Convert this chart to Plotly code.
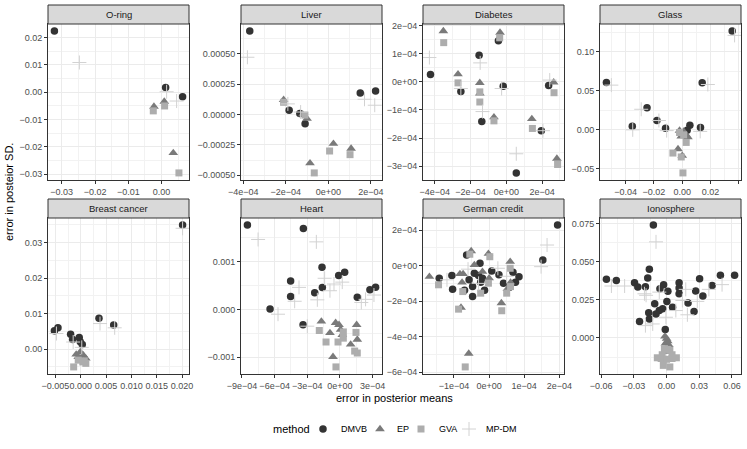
import plotly.graph_objects as go

W, H = 747, 449
MINUS = "\u2212"

methods = ["DMVB", "EP", "GVA", "MP-DM"]
colors = {"DMVB": "#333333", "EP": "#7a7a7a", "GVA": "#adadad", "MP-DM": "#d2d2d2"}
symbols = {"DMVB": "circle", "EP": "triangle-up", "GVA": "square", "MP-DM": "cross-thin-open"}
sizes = {"DMVB": 7.5, "EP": 8.5, "GVA": 7, "MP-DM": 10}

# ---- data (x = error in mean, y = error in SD) ----
oring_x = {
    "DMVB": [-0.0322, 0.0012, 0.0063],
    "EP": [-0.0023, 0.0008, 0.0035],
    "GVA": [-0.0025, 0.0009, 0.0052],
    "MP-DM": [-0.0247, 0.0015, 0.0045],
}
oring_y = {
    "DMVB": [0.0224, 0.0018, -0.0016],
    "EP": [-0.0052, -0.0034, -0.0222],
    "GVA": [-0.0068, -0.0050, -0.0295],
    "MP-DM": [0.0109, 0.0002, -0.0032],
}

liver_x = {
    "DMVB": [-3.69e-4, -1.84e-4, -1.34e-4, -1.09e-4, 1.50e-4, 2.22e-4],
    "EP": [-2.10e-4, -1.20e-4, -1.00e-4, -8.6e-5, 2.4e-5, 1.07e-4],
    "GVA": [-2.10e-4, -1.10e-4, -6.6e-5, 6e-6, 1.02e-4],
    "MP-DM": [-3.80e-4, -1.90e-4, -1.30e-4, 1.70e-4, 2.18e-4],
}
liver_y = {
    "DMVB": [6.85e-4, 3.5e-5, 8e-6, -7.6e-5, 1.77e-4, 1.93e-4],
    "EP": [1.2e-4, 0.0, -3.5e-5, -4.0e-4, -2.4e-4, -2.8e-4],
    "GVA": [1.0e-4, -5e-6, -4.8e-4, -3.0e-4, -3.3e-4],
    "MP-DM": [4.7e-4, 8.7e-5, 2e-5, 1.25e-4, 7.6e-5],
}

diabetes_x = {
    "DMVB": [-4.24e-4, -1.52e-4, -2.54e-4, -1.37e-4, -4.4e-5, -1.7e-5, 2.37e-4, 1.96e-4, 5.6e-5],
    "EP": [-3.52e-4, -2.70e-4, -1.48e-4, -1.48e-4, -3.5e-5, -6.9e-5, 1.43e-4, 2.65e-4, 2.83e-4],
    "GVA": [-3.50e-4, -2.70e-4, -1.48e-4, -1.48e-4, -3.7e-5, -6.9e-5, 1.46e-4, 2.67e-4, 2.87e-4],
    "MP-DM": [-4.30e-4, -1.46e-4, -2.54e-4, -1.33e-4, -2.6e-5, 2.43e-4, 5.6e-5, 2.05e-4],
}
diabetes_y = {
    "DMVB": [2.6e-5, 9.4e-5, -3.5e-5, -1.41e-4, 1.46e-4, -1.6e-5, -1.3e-5, -1.74e-4, -3.24e-4],
    "EP": [1.80e-4, 2.7e-5, -4e-6, -4.1e-5, 1.75e-4, -1.26e-4, -1.32e-4, -2e-6, -2.73e-4],
    "GVA": [1.39e-4, -4e-6, -3.6e-5, -7.2e-5, 1.56e-4, -1.39e-4, -1.66e-4, -3.9e-5, -2.94e-4],
    "MP-DM": [8.6e-5, 6.7e-5, -2.4e-5, -1.06e-4, -2.4e-5, 6e-6, -2.56e-4, -1.74e-4],
}

glass_x = {
    "DMVB": [-0.0536, -0.0353, -0.0249, -0.0179, -0.0118, 0.0035, 0.0054, 0.0129, 0.0141, 0.0353],
    "EP": [-0.0019, -0.0007, 0.0024, 0.0040, -0.0030, 0.0000, 0.0010],
    "GVA": [-0.0066, -0.0007, 0.0005, 0.0028, 0.0010, -0.0019],
    "MP-DM": [-0.0501, -0.0290, -0.0165, -0.0350, 0.0181, 0.0370, -0.0110, 0.0127],
}
glass_y = {
    "DMVB": [0.0606, 0.0047, 0.0284, 0.0119, 0.0021, -0.0004, 0.0059, 0.0030, 0.0602, 0.1263],
    "EP": [-0.0010, -0.0085, -0.0064, -0.0093, -0.0246, -0.0330, -0.0020],
    "GVA": [-0.0297, -0.0347, -0.0551, -0.0161, -0.0064, -0.0034],
    "MP-DM": [0.0572, 0.0263, 0.0119, 0.0000, 0.0580, 0.1208, -0.0010, -0.0020],
}

breast_x = {
    "DMVB": [-0.0052, -0.0045, -0.0020, -0.0016, -0.0003, -0.0001, 0.0003, 0.0036, 0.0065, 0.0201],
    "EP": [-0.0009, -0.0001, 0.0005, 0.0010, -0.0005, 0.0002],
    "GVA": [-0.0014, 0.0004, 0.0010, -0.0005, 0.0007],
    "MP-DM": [-0.0048, 0.0038, 0.0067, 0.0201, -0.0015, 0.0002],
}
breast_y = {
    "DMVB": [0.0052, 0.0060, 0.0042, 0.0027, 0.0033, 0.0021, 0.0013, 0.0087, 0.0068, 0.0349],
    "EP": [-0.0015, -0.0008, -0.0017, -0.0026, -0.0022, -0.0030],
    "GVA": [-0.0050, -0.0036, -0.0040, -0.0031, -0.0033],
    "MP-DM": [0.0044, 0.0072, 0.0060, 0.0340, 0.0020, 0.0005],
}

heart_x = {
    "DMVB": [-8.5e-4, -3.36e-4, -6.42e-4, -4.53e-4, -4.53e-4, -3.39e-4, -2.32e-4,
             -1.65e-4, -1.62e-4, -1.2e-5, 4.3e-5, 1.59e-4, 2.75e-4, 3.27e-4],
    "EP": [-1.71e-4, -9.2e-5, -4e-5, -9e-6, 6e-6, 2.1e-5, 1.53e-4, 1.59e-4, 9.8e-5, -6.4e-5],
    "GVA": [-1.9e-4, -1.28e-4, -1.8e-5, 3.1e-5, 3.1e-5, 1.47e-4, 1.35e-4, 1.59e-4, -3.7e-5],
    "MP-DM": [-7.52e-4, -2.17e-4, -5.69e-4, -3.76e-4, -4.16e-4, -2.08e-4, -1.41e-4,
              -9.2e-5, -5.5e-5, 2.1e-5, 1.96e-4, 2.35e-4, 3.12e-4, -3.0e-4],
}
heart_y = {
    "DMVB": [1.76e-3, 1.69e-3, 1e-5, 5.95e-4, 2.7e-4, -3.2e-4, 3.46e-4,
             8.8e-4, 4.57e-4, 7.06e-4, 7.75e-4, 2.56e-4, 4.08e-4, 4.64e-4],
    "EP": [-2.5e-4, -4.9e-4, -2.8e-4, -3.2e-4, -4.2e-4, -5.3e-4, -3.2e-4, -6.3e-4, -7.3e-4, -9.9e-4],
    "GVA": [-4.4e-4, -6.8e-4, -6.8e-4, -6.0e-4, -4.7e-4, -4.8e-4, -8.7e-4, -9.1e-4, -1.2e-3],
    "MP-DM": [1.46e-3, 1.41e-3, -1.0e-4, 4.6e-4, 1.7e-4, 2.0e-4, 6.5e-4,
              3.9e-4, 5.3e-4, 5.7e-4, 1.45e-4, 2.1e-4, 3.0e-4, -3.5e-4],
}

german_x = {
    "DMVB": [1.95e-4, 1.53e-4, -6.4e-5, -2.6e-5, -1.42e-4, -1.06e-4, -1.04e-4, -7.0e-5,
             -5.7e-5, -4.7e-5, -4.7e-5, -4.2e-5, -3.0e-5, -2.4e-5, -1.3e-5, -1.9e-5,
             7.5e-6, 2.8e-5, 4.1e-5, 6.8e-5, 7.5e-5, 8.5e-5],
    "EP": [-1.70e-4, -8.3e-5, -7.4e-5, -5.1e-5, -2e-6, -4.2e-5, -8.0e-5, -5.8e-5,
           6.0e-5, 3.5e-5, 5.2e-5, 6.1e-5, 0.0, -1.9e-5, -7.7e-5],
    "GVA": [-1.44e-4, -8.7e-5, -6.8e-5, 2e-6, 3.6e-5, 5.0e-5, -2.4e-5, -7.5e-5,
            6.1e-5, -2e-6, 6.0e-5, -5.5e-5],
    "MP-DM": [1.65e-4, 1.48e-4, 2.5e-5, -6.0e-5, -1.2e-4, 5.0e-5, -3.0e-5],
}
german_y = {
    "DMVB": [2.28e-4, 3.2e-5, 6.0e-5, 1.3e-5, -7.1e-5, -5.6e-5, -1.33e-4, -1.38e-4,
             -8.0e-5, -1.18e-4, -1.74e-4, -4.3e-5, -5.6e-5, -9.3e-5, -1.38e-4, -7.1e-5,
             -3.0e-5, -5.2e-5, -9.9e-5, -3.7e-5, -9.3e-5, -6.2e-5],
    "EP": [-6.2e-5, -4.7e-5, -4.7e-5, 8.2e-5, 6.7e-5, 4e-6, -2.36e-4, -4.95e-4,
           2.2e-5, -2.11e-4, -1.31e-4, -9.5e-5, -7.1e-5, -3.4e-5, -9.5e-5],
    "GVA": [-1.08e-4, -2.45e-4, -5.70e-4, 5.0e-5, -2.54e-4, -1.55e-4, -1.55e-4, -1.46e-4,
            -1.18e-4, -9.9e-5, -1.5e-5, 6.4e-5],
    "MP-DM": [1.16e-4, -6e-6, -1.5e-5, -2.0e-5, -8.0e-5, -6.0e-5, -1.0e-4],
}

iono_x = {
    "DMVB": [-0.0121, -0.0552, -0.0461, -0.0294, -0.0264, -0.0194, -0.0173, -0.0158,
             -0.0061, -0.0027, 0.0012, 0.0115, 0.0115, 0.0115, 0.0267, 0.0303,
             0.0333, 0.0418, 0.0494, 0.0624, -0.0109, 0.0003, 0.0055, -0.0036,
             -0.0067, -0.0097, -0.0164, -0.0158, -0.0248, 0.0197, 0.0252, -0.0012],
    "EP": [-0.0015, 0.0000, 0.0010, -0.0010, 0.0020, 0.0005, -0.0005, 0.0015],
    "GVA": [-0.0020, 0.0010, 0.0030, -0.0040, 0.0050, -0.0085, -0.0050, 0.0000,
            0.0050, 0.0090, -0.0030, 0.0030],
    "MP-DM": [-0.0097, -0.0506, -0.0385, -0.0203, -0.0067, 0.0176, 0.0191, 0.0282,
              0.0388, 0.0509, -0.0194, -0.0127, -0.0006, 0.0085, -0.0188, 0.0145],
}
iono_y = {
    "DMVB": [0.0741, 0.0385, 0.0378, 0.0363, 0.0334, 0.0336, 0.0394, 0.0451,
             0.0323, 0.0350, 0.0306, 0.0363, 0.0328, 0.0290, 0.0308, 0.0389,
             0.0275, 0.0345, 0.0411, 0.0411, 0.0224, 0.0240, 0.0202, 0.0191,
             0.0180, 0.0158, 0.0165, 0.0125, 0.0108, 0.0229, 0.0174, 0.0055],
    "EP": [0.0010, -0.0005, -0.0020, -0.0035, -0.0045, -0.0060, -0.0075, -0.0090],
    "GVA": [-0.0070, -0.0075, -0.0080, -0.0110, -0.0110, -0.0130, -0.0135, -0.0140,
            -0.0135, -0.0130, -0.0180, -0.0190],
    "MP-DM": [0.0631, 0.0341, 0.0341, 0.0290, 0.0301, 0.0319, 0.0152, 0.0240,
              0.0319, 0.0350, 0.0081, 0.0092, 0.0136, 0.0180, 0.0280, 0.0246],
}


def sci(v):
    # ggplot-style "4e-04" labels
    if v == 0:
        return "0e+00"
    return f"{v:.0e}".replace("-", MINUS)


def dec(v, nd):
    return f"{v:.{nd}f}".replace("-", MINUS)


# tick values per panel
oring_xt = [-0.03, -0.02, -0.01, 0.0]
oring_yt = [-0.03, -0.02, -0.01, 0.0, 0.01, 0.02]
liver_xt = [-4e-4, -2e-4, 0, 2e-4]
liver_yt = [-5e-4, -2.5e-4, 0, 2.5e-4, 5e-4]
diabetes_xt = [-4e-4, -2e-4, 0, 2e-4]
diabetes_yt = [-3e-4, -2e-4, -1e-4, 0, 1e-4, 2e-4]
glass_xt = [-0.04, -0.02, 0, 0.02, 0.04]
glass_yt = [-0.05, 0, 0.05, 0.10]
breast_xt = [-0.005, 0, 0.005, 0.010, 0.015, 0.020]
breast_yt = [0, 0.01, 0.02, 0.03]
heart_xt = [-9e-4, -6e-4, -3e-4, 0, 3e-4]
heart_yt = [-0.001, 0, 0.001]
german_xt = [-1e-4, 0, 1e-4, 2e-4]
german_yt = [-6e-4, -4e-4, -2e-4, 0, 2e-4]
iono_xt = [-0.06, -0.03, 0, 0.03, 0.06]
iono_yt = [0, 0.025, 0.05, 0.075]

panels = [
    ("O-ring", oring_x, oring_y, oring_xt, [dec(v, 2) for v in oring_xt],
     oring_yt, [dec(v, 2) for v in oring_yt]),
    ("Liver", liver_x, liver_y, liver_xt, [sci(v) for v in liver_xt],
     liver_yt, [dec(v, 5) for v in liver_yt]),
    ("Diabetes", diabetes_x, diabetes_y, diabetes_xt, [sci(v) for v in diabetes_xt],
     diabetes_yt, [sci(v) for v in diabetes_yt]),
    ("Glass", glass_x, glass_y, glass_xt, [dec(v, 2) for v in glass_xt],
     glass_yt, [dec(v, 2) for v in glass_yt]),
    ("Breast cancer", breast_x, breast_y, breast_xt, [dec(v, 3) for v in breast_xt],
     breast_yt, [dec(v, 2) for v in breast_yt]),
    ("Heart", heart_x, heart_y, heart_xt, [sci(v) for v in heart_xt],
     heart_yt, [dec(v, 3) for v in heart_yt]),
    ("German credit", german_x, german_y, german_xt, [sci(v) for v in german_xt],
     german_yt, [sci(v) for v in german_yt]),
    ("Ionosphere", iono_x, iono_y, iono_xt, [dec(v, 2) for v in iono_xt],
     iono_yt, [dec(v, 3) for v in iono_yt]),
]

# panel boxes in pixels
cols = [(48, 189), (241, 382), (423, 564), (600, 741)]
rows = [(24, 180, 5), (218, 374, 199)]  # plot top, plot bottom, strip top

# legend key layout (pixels): symbol x, label x
key_sym_x = [323, 380, 421, 469]
key_lab_x = [339, 395, 437, 484]
key_y = 429


def data_range(d):
    vals = [v for m in methods for v in d[m]]
    lo, hi = min(vals), max(vals)
    pad = (hi - lo) * 0.05
    return [lo - pad, hi + pad]


def minor_vals(ticks):
    step = ticks[1] - ticks[0]
    out = [ticks[0] - step / 2]
    out += [t + step / 2 for t in ticks]
    return out


fig = go.Figure()
layout = {}
shapes = []
annotations = []
FONT = "Liberation Sans, Arial"
tick_font = dict(family=FONT, size=9, color="#4d4d4d")


def marker_for(m):
    return dict(symbol=symbols[m], size=sizes[m], color=colors[m],
                line=dict(color=colors[m], width=1 if m == "MP-DM" else 0))


for i, (name, xd, yd, xt, xl, yt, yl) in enumerate(panels):
    k = i + 1
    c0, c1 = cols[i % 4]
    top, bot, stop = rows[i // 4]
    for m in methods:
        fig.add_trace(go.Scatter(
            x=xd[m], y=yd[m], mode="markers", name=m, showlegend=False,
            xaxis=f"x{k}", yaxis=f"y{k}", marker=marker_for(m),
        ))
    common = dict(showline=True, mirror=True, linecolor="#333333", linewidth=1,
                  ticks="outside", ticklen=3, tickcolor="#333333", tickwidth=1,
                  showgrid=True, gridcolor="#ebebeb", gridwidth=1, zeroline=False,
                  tickfont=tick_font, tickmode="array", automargin=False)
    layout[f"xaxis{k}"] = dict(common, domain=[c0 / W, c1 / W], anchor=f"y{k}",
                               range=data_range(xd), tickvals=xt, ticktext=xl, tickangle=0,
                               minor=dict(tickvals=minor_vals(xt), showgrid=True,
                                          gridcolor="#f2f2f2", gridwidth=0.6, ticks=""))
    layout[f"yaxis{k}"] = dict(common, domain=[1 - bot / H, 1 - top / H], anchor=f"x{k}",
                               range=data_range(yd), tickvals=yt, ticktext=yl,
                               minor=dict(tickvals=minor_vals(yt), showgrid=True,
                                          gridcolor="#f2f2f2", gridwidth=0.6, ticks=""))
    shapes.append(dict(type="rect", xref="paper", yref="paper",
                       x0=c0 / W, x1=c1 / W, y0=1 - top / H, y1=1 - stop / H,
                       fillcolor="#d9d9d9", line=dict(color="#333333", width=1)))
    annotations.append(dict(text=name, xref="paper", yref="paper",
                            x=(c0 + c1) / 2 / W, y=1 - (top + stop) / 2 / H,
                            showarrow=False, xanchor="center", yanchor="middle",
                            font=dict(family=FONT, size=9.5, color="#1a1a1a")))

# legend drawn on a hidden pixel-unit axis
for j, m in enumerate(methods):
    fig.add_trace(go.Scatter(x=[key_sym_x[j]], y=[H - key_y], mode="markers", name=m,
                             showlegend=False, xaxis="x9", yaxis="y9", marker=marker_for(m),
                             hoverinfo="skip"))
    annotations.append(dict(text=m, xref="paper", yref="paper",
                            x=key_lab_x[j] / W, y=1 - key_y / H, showarrow=False,
                            xanchor="left", yanchor="middle",
                            font=dict(family=FONT, size=9, color="#000000")))
annotations.append(dict(text="method", xref="paper", yref="paper",
                        x=271 / W, y=1 - key_y / H, showarrow=False,
                        xanchor="left", yanchor="middle",
                        font=dict(family=FONT, size=11, color="#000000")))
layout["xaxis9"] = dict(domain=[0, 1], range=[0, W], visible=False, anchor="y9", fixedrange=True)
layout["yaxis9"] = dict(domain=[0, 40 / H], range=[0, 40], visible=False, anchor="x9", fixedrange=True)

annotations.append(dict(text="error in posterior means", xref="paper", yref="paper",
                        x=(48 + 741) / 2 / W, y=1 - 398 / H, showarrow=False,
                        xanchor="center", yanchor="middle",
                        font=dict(family=FONT, size=11, color="#000000")))
annotations.append(dict(text="error in posteior SD.", xref="paper", yref="paper",
                        x=9 / W, y=1 - 192 / H, showarrow=False, textangle=-90,
                        xanchor="center", yanchor="middle",
                        font=dict(family=FONT, size=11, color="#000000")))

fig.update_layout(
    **layout,
    width=W, height=H, margin=dict(l=0, r=0, t=0, b=0),
    template="none", paper_bgcolor="white", plot_bgcolor="white",
    shapes=shapes, annotations=annotations, showlegend=False,
    font=dict(family=FONT),
)

fig.write_html("out.html", config={"displayModeBar": False},
               post_script="document.body.style.margin='0px';")
